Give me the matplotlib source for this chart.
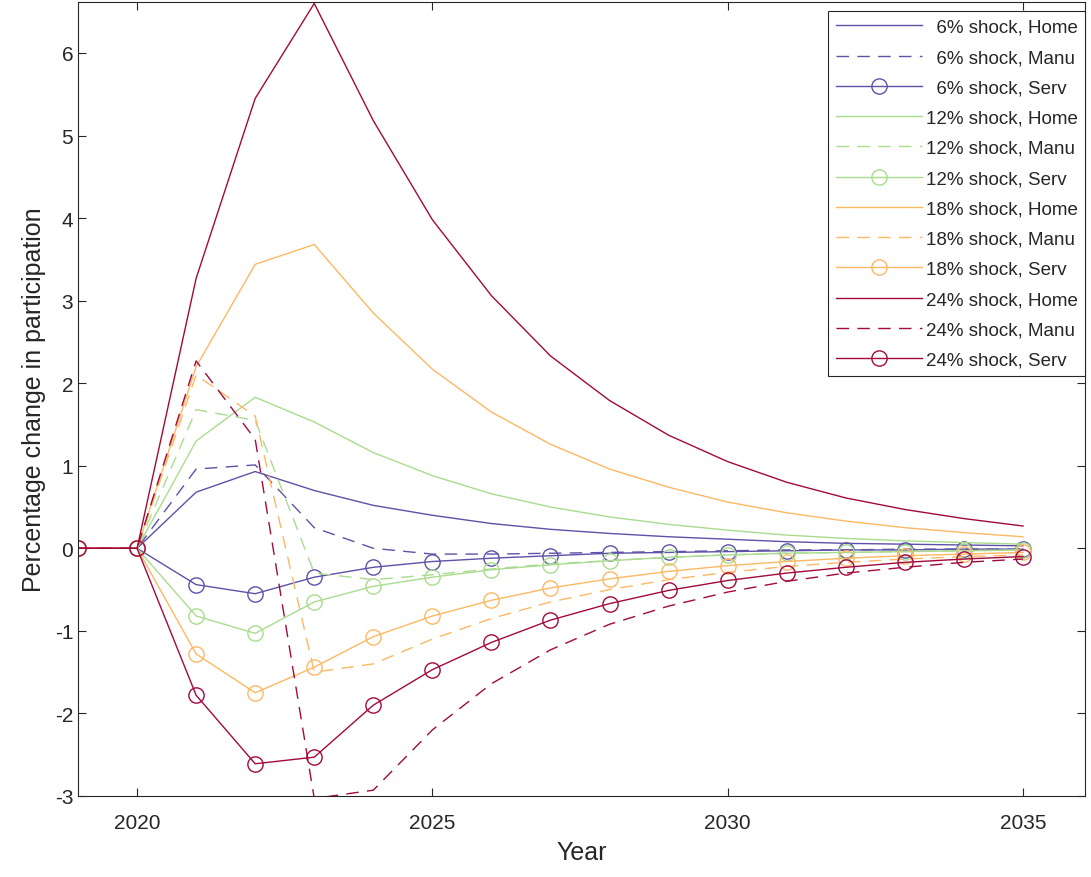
import numpy as np
import matplotlib.pyplot as plt

plt.rcParams['font.family'] = ['Liberation Sans', 'DejaVu Sans']
plt.rcParams['axes.unicode_minus'] = False

years = list(range(2019, 2036))
pad = [0.0, 0.0]

home = {
    "6%": [0.68, 0.93, 0.70, 0.52, 0.40, 0.30, 0.23, 0.18, 0.14, 0.11, 0.08, 0.06, 0.05, 0.04, 0.03],
    "12%": [1.30, 1.83, 1.53, 1.16, 0.88, 0.66, 0.50, 0.38, 0.29, 0.22, 0.16, 0.12, 0.09, 0.07, 0.05],
    "18%": [2.20, 3.44, 3.68, 2.85, 2.17, 1.65, 1.26, 0.96, 0.74, 0.56, 0.43, 0.33, 0.25, 0.19, 0.14],
    "24%": [3.27, 5.45, 6.60, 5.18, 3.98, 3.06, 2.33, 1.79, 1.37, 1.05, 0.80, 0.61, 0.47, 0.36, 0.27],
}
manu = {
    "6%": [0.96, 1.01, 0.25, 0.00, -0.07, -0.07, -0.06, -0.05, -0.04, -0.03, -0.02, -0.02, -0.01, -0.01, -0.01],
    "12%": [1.68, 1.55, -0.30, -0.38, -0.32, -0.25, -0.19, -0.15, -0.11, -0.08, -0.06, -0.05, -0.04, -0.03, -0.02],
    "18%": [2.10, 1.60, -1.50, -1.40, -1.10, -0.85, -0.65, -0.50, -0.38, -0.29, -0.22, -0.17, -0.13, -0.10, -0.08],
    "24%": [2.27, 1.32, -3.03, -2.93, -2.20, -1.64, -1.23, -0.92, -0.70, -0.53, -0.40, -0.30, -0.23, -0.17, -0.13],
}
serv = {
    "6%": [-0.44, -0.55, -0.35, -0.23, -0.16, -0.12, -0.09, -0.06, -0.05, -0.04, -0.03, -0.02, -0.02, -0.01, -0.01],
    "12%": [-0.82, -1.03, -0.65, -0.46, -0.35, -0.26, -0.20, -0.15, -0.11, -0.08, -0.06, -0.05, -0.04, -0.03, -0.02],
    "18%": [-1.28, -1.75, -1.44, -1.07, -0.82, -0.63, -0.48, -0.37, -0.28, -0.21, -0.16, -0.12, -0.09, -0.07, -0.05],
    "24%": [-1.78, -2.61, -2.53, -1.90, -1.47, -1.14, -0.87, -0.67, -0.51, -0.39, -0.30, -0.23, -0.17, -0.13, -0.10],
}
colors = {"6%": "#5e51a8", "12%": "#a9dc8e", "18%": "#fdb863", "24%": "#a3093d"}

fig = plt.figure(figsize=(10.91, 8.78), dpi=100)
ax = fig.add_axes([0.0715, 0.0923, 0.923, 0.9045])

for s in colors:
    c = colors[s]
    ax.plot(years, pad + home[s], color=c, lw=1.0, label=f"{s} shock, Home")
    ax.plot(years, pad + manu[s], color=c, lw=1.0, ls=(0, (9, 6)), label=f"{s} shock, Manu")
    ax.plot(years, pad + serv[s], color=c, lw=1.0, marker="o", ms=11, mfc="none",
            label=f"{s} shock, Serv")

ax.set_xlim(2019, 2036.05)
ax.set_ylim(-3, 6.62)
ax.set_xticks([2020, 2025, 2030, 2035])
ax.set_yticks(range(-3, 7))
ax.tick_params(direction="in", labelsize=15, length=6, top=True, right=True, colors="#262626")
ax.tick_params(axis="x", pad=12)
for sp in ax.spines.values():
    sp.set_color("#262626")
ax.set_xlabel("Year", fontsize=18, color="#262626", labelpad=6)
ax.set_ylabel("Percentage change in participation", fontsize=18, color="#262626", labelpad=6)

handles, labels = ax.get_legend_handles_labels()
labels = [("\u2007" + l) if l.startswith("6%") else l for l in labels]
leg = ax.legend(handles, labels, loc="upper right", fontsize=13.5, fancybox=False, framealpha=1,
                edgecolor="#262626", handlelength=4.6, handletextpad=0.2, borderaxespad=0.0,
                labelspacing=0.7, borderpad=0.4, bbox_to_anchor=(1.0, 0.988))
leg.get_frame().set_linewidth(0.8)
for t in leg.get_texts():
    t.set_color("#262626")

fig.savefig("out.png", dpi=100)
